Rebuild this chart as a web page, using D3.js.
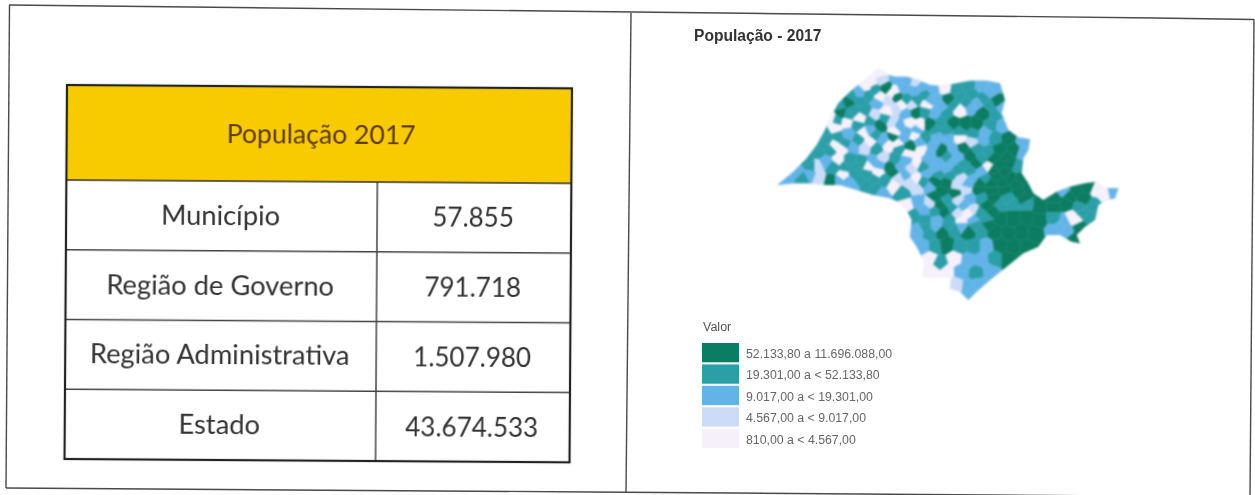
<!DOCTYPE html>
<html>
<head>
<meta charset="utf-8">
<title>População 2017</title>
<script src="https://cdn.jsdelivr.net/npm/d3@7"></script>
<style>
  html, body { margin: 0; padding: 0; background: #fff; overflow: hidden; }
  svg { display: block; }
  .scan { filter: blur(0.45px); }
  .map { filter: blur(0.9px); }
</style>
</head>
<body>
<svg id="chart" width="1255" height="495"></svg>
<script>
// table values
var tableTitle = "População 2017";
var rowNames = ["Município", "Região de Governo", "Região Administrativa", "Estado"];
var rowValues = ["57.855", "791.718", "1.507.980", "43.674.533"];

// legend, highest class first
var mapTitle = "População - 2017";
var legendTitle = "Valor";
var classIds = [5, 4, 3, 2, 1];
var classLabels = [
  "52.133,80 a 11.696.088,00",
  "19.301,00 a < 52.133,80",
  "9.017,00 a < 19.301,00",
  "4.567,00 a < 9.017,00",
  "810,00 a < 4.567,00"
];
var classColors = ["#0b7d62", "#2a9fa8", "#62b4e8", "#ccdcf8", "#f6f0fa"];

// state outline on a 1140 x 780 grid
var stateOutline = [
  [52,405],[100,365],[140,325],[170,285],[195,240],[210,205],[235,160],[265,130],[300,100],[335,75],
  [355,55],[385,75],[405,80],[440,80],[475,90],[510,105],[545,108],[590,100],[630,92],[680,92],
  [720,100],[735,150],[725,190],[745,240],[775,262],[810,268],[805,300],[790,325],[785,370],[805,400],
  [820,430],[850,450],[890,425],[930,410],[975,400],[1010,395],[1030,415],[1075,415],[1065,445],[1040,450],
  [1015,465],[1005,510],[975,530],[950,555],[960,580],[935,575],[900,555],[860,555],[835,590],[790,610],
  [740,650],[690,690],[650,725],[625,750],[600,725],[570,715],[575,680],[530,680],[490,680],[495,640],
  [470,590],[450,560],[455,510],[440,480],[415,455],[390,445],[340,435],[290,420],[240,405],[200,405],
  [150,400],[100,400]
];

// municipalities: grid x, grid y, class
var municipios = [
  [360,70,1],
  [335,95,1],[365,90,2],[410,85,3],[440,88,3],[470,95,2],
  [275,140,4],[320,110,1],[345,120,4],[378,115,5],[405,125,1],[430,115,3],[465,125,3],[495,135,4],[520,120,3],[555,115,1],[590,120,4],[625,105,4],[665,110,3],[705,110,3],
  [240,165,4],[265,155,5],[300,150,4],[350,160,3],[385,150,2],[410,140,5],[440,150,4],[470,150,4],[500,165,1],[530,150,3],[565,150,5],[600,140,4],[635,135,4],[670,145,4],[710,155,5],[690,125,3],
  [215,205,1],[245,190,5],[280,185,4],[315,180,4],[345,195,2],[380,185,1],[410,175,2],[440,190,3],[466,187,5],[495,185,4],[525,190,3],[560,190,4],[598,180,1],[635,170,3],[670,190,5],[705,190,4],[725,175,3],
  [190,250,4],[225,230,1],[260,215,1],[295,225,4],[330,215,4],[362,225,5],[395,215,2],[420,230,3],[450,220,1],[480,225,1],[510,225,5],[545,215,4],[580,220,5],[615,225,5],[650,225,5],[690,225,4],[730,230,3],
  [165,290,4],[200,270,4],[235,265,4],[265,255,3],[312,248,1],[345,255,4],[400,260,5],[430,265,3],[465,255,1],[495,262,4],[530,260,3],[565,265,3],[600,265,1],[635,275,2],[670,265,3],[705,265,4],[745,265,5],[790,275,3],
  [140,330,4],[175,305,4],[210,300,4],[245,295,1],[280,290,3],[315,290,2],[350,295,4],[385,285,1],[420,295,4],[450,290,5],[485,300,1],[520,290,3],[545,305,5],[580,300,3],[610,295,5],[650,300,4],[685,310,4],[720,300,5],[760,300,5],[790,310,3],
  [110,365,3],[170,350,2],[200,335,3],[235,330,1],[270,330,4],[305,340,4],[340,335,3],[370,325,2],[405,330,4],[440,330,3],[470,340,1],[505,330,3],[540,340,3],[575,335,3],[610,345,4],[650,340,5],[685,350,1],[715,345,5],[750,340,5],[775,350,4],
  [75,395,3],[130,385,4],[175,385,2],[215,395,5],[250,375,1],[285,370,4],[320,370,4],[355,365,1],[400,365,5],[435,375,3],[470,385,1],[500,370,3],[535,375,4],[570,375,4],[605,385,2],[640,385,3],[675,385,4],[710,380,5],[750,385,5],[785,385,5],
  [280,405,3],[320,405,4],[365,430,3],[345,415,4],[400,405,1],[430,430,4],[470,415,2],[510,410,3],[545,425,5],[585,430,5],[620,420,2],[655,420,5],[695,425,5],[735,420,5],[775,425,5],[810,415,5],[910,420,3],[950,425,5],[985,410,5],[1010,420,1],[1058,430,3],[1035,435,1],
  [440,465,1],[475,455,3],[510,460,2],[540,465,5],[575,475,4],[610,465,3],[640,480,2],[680,465,5],[720,465,4],[760,460,4],[800,465,4],[840,470,5],[880,470,5],[920,460,5],[960,470,4],[1000,465,4],
  [460,500,4],[495,510,4],[530,510,3],[570,505,4],[605,510,1],[640,510,3],[680,505,4],[720,505,5],[760,505,5],[800,500,5],[840,510,5],[880,505,4],[915,515,3],[950,510,1],[985,500,4],
  [475,540,3],[510,550,4],[545,545,5],[585,540,4],[625,545,5],[665,540,4],[705,545,5],[745,550,5],[785,545,5],[825,550,5],[880,540,3],[920,540,3],[960,530,5],
  [490,590,3],[525,590,4],[560,585,5],[600,590,4],[640,590,4],[680,590,3],[720,585,5],[760,590,5],[800,595,5],[945,572,5],
  [510,625,1],[540,640,4],[585,625,1],[625,630,3],[665,630,3],[705,625,4],[745,625,5],
  [520,665,1],[560,665,1],[605,665,3],[650,670,4],[690,665,3],
  [590,705,2],[625,710,3],[655,700,3],
  [625,740,3],
  // second pass, the smaller ones between the rows above
  [300,130,3],[325,135,4],[360,140,1],[395,130,1],[425,165,1],[455,165,2],[485,110,3],[510,150,3],[545,170,3],[580,165,4],[620,155,4],[650,160,3],[690,165,4],
  [230,210,4],[265,195,4],[300,205,1],[330,240,3],[375,205,4],[405,245,1],[440,245,3],[470,240,3],[525,240,4],[560,240,4],[600,245,4],[640,250,4],[675,245,3],
  [190,285,4],[225,285,1],[255,280,4],[295,270,4],[330,275,1],[370,270,3],[415,280,1],[445,310,1],[480,275,3],[510,310,3],[560,320,4],[595,320,3],[630,315,5],[665,325,4],[700,325,5],[740,320,5],
  [155,350,4],[220,350,4],[255,350,4],[290,350,4],[325,350,1],[360,345,3],[390,350,5],[420,350,3],[455,355,2],[490,350,4],[525,355,3],[560,355,3],[595,360,4],[630,360,4],[665,365,3],[700,360,5],[735,365,5],
  [150,375,3],[235,395,3],[265,395,3],[300,390,4],[340,390,4],[375,390,4],[415,385,2],[450,400,2],[490,395,4],[525,395,5],[560,400,5],[590,405,2],[625,400,3],[660,400,5],[695,400,5],[730,400,5],[770,405,5],
  [525,440,5],[560,450,4],[595,450,2],[630,445,3],[665,445,4],[700,445,5],[745,445,4],[790,445,5],[880,445,5],[930,440,5],[970,445,5],
  [495,480,3],[525,485,4],[555,485,5],[590,490,2],[625,490,1],[660,490,4],[700,485,5],
  [495,530,4],[530,530,3],[565,525,4],[605,530,3],[645,525,4],[685,525,5],[900,530,3],[935,505,1],[970,490,4]
];

var svg = d3.select("#chart");
var classColor = d3.scaleOrdinal().domain(classIds).range(classColors);

// scanned frame, it sits slightly crooked on the page
var framePaths = [
  [[9,5],[590,11.5],[1155,18],[1254,19.5]],
  [[9.5,5],[6,488]],
  [[6,488],[590,492],[1255,497]],
  [[1254,19.5],[1250,497]],
  [[631,13],[626,492]]
];
svg.append("g").attr("class", "scan")
  .selectAll("path").data(framePaths).join("path")
  .attr("d", d3.line())
  .attr("fill", "none")
  .attr("stroke", "#4a4a4a")
  .attr("stroke-width", 1.4);

//
// left side: the table
//
var tableLeft = 67, tableTop = 85, tableWidth = 505, tableHeight = 374, headerHeight = 95;
var table = svg.append("g").attr("class", "scan")
  .attr("transform", "rotate(0.38 " + tableLeft + " " + tableTop + ")");

var y = d3.scaleBand().domain(rowNames).range([headerHeight, tableHeight]);
var colSplit = 311;

var tableG = table.append("g").attr("transform", "translate(" + tableLeft + "," + tableTop + ")");

tableG.append("rect")
  .attr("width", tableWidth).attr("height", headerHeight)
  .attr("fill", "#f8cb00");

tableG.append("text")
  .attr("x", tableWidth / 2 + 2).attr("y", headerHeight / 2 + 3)
  .attr("text-anchor", "middle").attr("dominant-baseline", "middle")
  .attr("font-family", "Lato").attr("font-size", 26.6)
  .attr("fill", "#5b3a06")
  .text(tableTitle);

tableG.selectAll("line.row").data(rowNames.slice(1)).join("line")
  .attr("class", "row")
  .attr("x1", 0).attr("x2", tableWidth)
  .attr("y1", function(d) { return y(d); })
  .attr("y2", function(d) { return y(d); })
  .attr("stroke", "#444").attr("stroke-width", 1.5);

tableG.append("line")
  .attr("x1", colSplit).attr("x2", colSplit)
  .attr("y1", headerHeight).attr("y2", tableHeight)
  .attr("stroke", "#444").attr("stroke-width", 1.5);

tableG.append("line")
  .attr("x1", 0).attr("x2", tableWidth)
  .attr("y1", headerHeight).attr("y2", headerHeight)
  .attr("stroke", "#333").attr("stroke-width", 1.5);

tableG.append("rect")
  .attr("width", tableWidth).attr("height", tableHeight)
  .attr("fill", "none").attr("stroke", "#222").attr("stroke-width", 2.2);

tableG.selectAll("text.name").data(rowNames).join("text")
  .attr("class", "name")
  .attr("x", colSplit / 2 - 1)
  .attr("y", function(d) { return y(d) + y.bandwidth() / 2 + 2; })
  .attr("text-anchor", "middle").attr("dominant-baseline", "middle")
  .attr("font-family", "Lato").attr("font-size", 27.3).attr("fill", "#333")
  .text(function(d) { return d; });

tableG.selectAll("text.value").data(rowValues).join("text")
  .attr("class", "value")
  .attr("x", (colSplit + tableWidth) / 2 - 1)
  .attr("y", function(d, i) { return y(rowNames[i]) + y.bandwidth() / 2 + 3; })
  .attr("text-anchor", "middle").attr("dominant-baseline", "middle")
  .attr("font-family", "Lato").attr("font-size", 26).attr("fill", "#333")
  .text(function(d) { return d; });

//
// right side: the map
//
var mapX = d3.scaleLinear().domain([0, 1140]).range([760, 1140]);
var mapY = d3.scaleLinear().domain([0, 780]).range([50, 310]);

svg.append("text")
  .attr("class", "scan")
  .attr("x", 694).attr("y", 41)
  .attr("font-family", "Liberation Sans").attr("font-weight", "bold")
  .attr("font-size", 15.6).attr("fill", "#333")
  .text(mapTitle);

var outlinePath = d3.line()
  .x(function(d) { return mapX(d[0]); })
  .y(function(d) { return mapY(d[1]); })
  .curve(d3.curveLinearClosed);

svg.append("defs").append("clipPath").attr("id", "stateClip")
  .append("path").attr("d", outlinePath(stateOutline));

var points = municipios.map(function(d) { return [mapX(d[0]), mapY(d[1])]; });
var voronoi = d3.Delaunay.from(points).voronoi([760, 50, 1140, 310]);

var mapG = svg.append("g").attr("class", "map");
mapG.append("path")
  .attr("d", outlinePath(stateOutline))
  .attr("fill", "#f6f0fa").attr("stroke", "#d8d4ea").attr("stroke-width", 0.6);

mapG.append("g").attr("clip-path", "url(#stateClip)")
  .selectAll("path").data(municipios).join("path")
  .attr("d", function(d, i) { return voronoi.renderCell(i); })
  .attr("fill", function(d) { return classColor(d[2]); })
  .attr("stroke", function(d) { return classColor(d[2]); })
  .attr("stroke-width", 0.3);

// legend
var legendY = d3.scaleBand().domain(classIds).range([343, 448]).paddingInner(0.1);

svg.append("text")
  .attr("class", "scan")
  .attr("x", 703).attr("y", 331)
  .attr("font-family", "Liberation Sans").attr("font-size", 12.5).attr("fill", "#555")
  .text(legendTitle);

var legend = svg.append("g").attr("class", "scan");
legend.selectAll("rect").data(classIds).join("rect")
  .attr("x", 702).attr("width", 37)
  .attr("y", function(d) { return legendY(d); })
  .attr("height", legendY.bandwidth())
  .attr("fill", function(d) { return classColor(d); });

legend.selectAll("text.legend").data(classLabels).join("text")
  .attr("class", "legend")
  .attr("x", 746)
  .attr("y", function(d, i) { return legendY(classIds[i]) + legendY.bandwidth() / 2 + 2; })
  .attr("dominant-baseline", "middle")
  .attr("font-family", "Liberation Sans").attr("font-size", 12.3).attr("fill", "#666")
  .text(function(d) { return d; });
</script>
</body>
</html>
